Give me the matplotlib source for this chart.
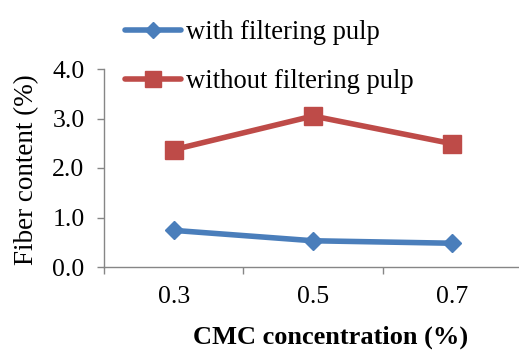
import matplotlib
matplotlib.use("Agg")
import matplotlib.pyplot as plt

categories = ["0.3", "0.5", "0.7"]
with_filtering = [0.74, 0.53, 0.48]
without_filtering = [2.37, 3.05, 2.49]
y_ticks = [0.0, 1.0, 2.0, 3.0, 4.0]
y_ticklabels = ["0.0", "1.0", "2.0", "3.0", "4.0"]

plt.rcParams['font.family'] = ['Liberation Serif', 'DejaVu Serif']

W, H = 519, 350
fig = plt.figure(figsize=(W / 100, H / 100), dpi=100)
ax = fig.add_axes([104 / W, (H - 267) / H, (522 - 104) / W, (267 - 69) / H])

blue = "#4A7EBB"
red = "#BE4B48"
x = list(range(len(categories)))
ax.plot(x, with_filtering, color=blue, lw=4.0, marker="D", ms=9.5,
        label="with filtering pulp", solid_capstyle="round")
ax.plot(x, without_filtering, color=red, lw=4.0, marker="s", ms=13.5,
        label="without filtering pulp", solid_capstyle="round")

ax.set_xlim(-0.5, len(categories) - 0.5)
ax.set_ylim(0, 4.0)
ax.set_yticks(y_ticks)
ax.set_yticklabels(y_ticklabels)
ax.set_xticks(x)
ax.set_xticklabels(categories)
ax.set_xticks([i - 0.5 for i in range(len(categories) + 1)], minor=True)

for s in ["top", "right"]:
    ax.spines[s].set_visible(False)
for s in ["left", "bottom"]:
    ax.spines[s].set_color("#868686")
    ax.spines[s].set_linewidth(1.0)

ax.tick_params(axis="y", direction="out", length=5, width=1.0, color="#868686",
               labelsize=18.5, pad=9)
ax.tick_params(axis="x", which="major", length=0, labelsize=18.5, pad=14)
ax.tick_params(axis="x", which="minor", direction="out", length=5, width=1.0,
               color="#868686")

fig.text(27 / W, 1 - 170 / H, "Fiber content (%)", rotation=90,
         ha="center", va="center", fontsize=19.5)
fig.text(331 / W, 0.036, "CMC concentration (%)", ha="center", va="center",
         fontsize=19, fontweight="bold")

leg = fig.legend(loc="upper left", bbox_to_anchor=(125 / W, 1 - 20 / H),
                 frameon=False, fontsize=19.2, handlelength=2.1,
                 handletextpad=0.2, labelspacing=0.9, borderpad=0,
                 borderaxespad=0, markerscale=0.85)

fig.savefig("out.png", dpi=100)
